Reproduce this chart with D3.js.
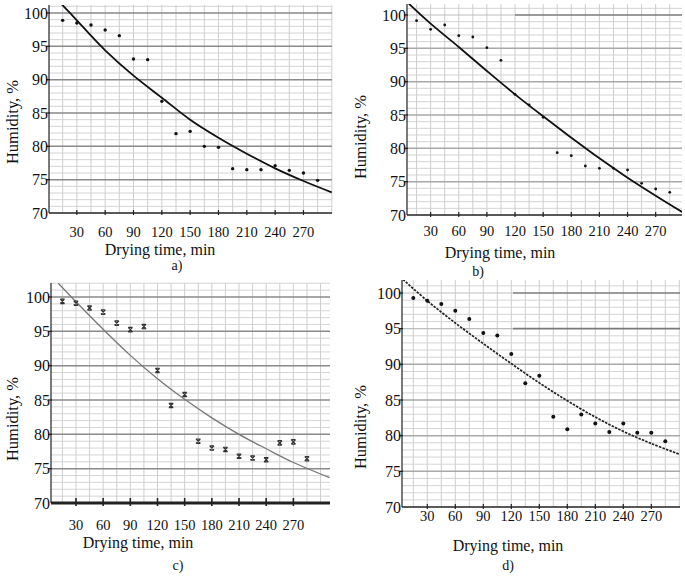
<!DOCTYPE html>
<html><head><meta charset="utf-8">
<script src="https://cdn.jsdelivr.net/npm/d3@7"></script>
<style>
body{margin:0;background:#fff;}
svg text{font-family:"Liberation Serif","Tinos","Times New Roman","DejaVu Serif",serif;fill:#111;}
</style></head>
<body>
<svg id="chart" width="685" height="576"></svg>
<script>
// ---- data ----
const times = [15,30,45,60,75,90,105,120,135,150,165,180,195,210,225,240,255,270,285];
const xTickValues = [30,60,90,120,150,180,210,240,270];
const yTickValues = [70,75,80,85,90,95,100];
const panelLabels = ["a)","b)","c)","d)"];
const xTitle = "Drying time, min";
const yTitle = "Humidity, %";

const humA = [98.9,98.5,98.2,97.45,96.6,93.1,93.0,86.75,81.9,82.25,80.0,79.85,76.65,76.5,76.5,77.1,76.4,76.0,74.9];
const fitTimesA = [14,30,45,60,90,120,150,180,210,240,270,300];
const fitA = [101.3,98.9,96.6,94.4,90.6,87.3,84.0,81.3,78.9,76.7,74.8,73.1];

const humB = [99.15,97.85,98.5,96.9,96.7,95.1,93.2,88.1,86.5,84.65,79.35,78.9,77.35,77.0,77.0,76.75,74.75,73.9,73.4];
const fitTimesB = [6,30,60,90,120,150,180,210,240,270,300];
const fitB = [101.8,98.7,95.2,91.6,88.1,84.8,81.6,78.5,75.6,72.9,70.3];

const humC = [99.37,99.1,98.4,97.8,96.2,95.25,95.7,89.3,84.2,85.8,79.0,78.0,77.8,76.8,76.55,76.3,78.75,78.9,76.45];
const fitTimesC = [10.5,30,60,90,120,150,180,210,240,270,310];
const fitC = [102.0,99.3,95.3,91.5,88.1,85.1,82.4,80.0,77.9,75.9,73.7];

const humD = [99.3,98.9,98.45,97.5,96.35,94.4,94.05,91.45,87.35,88.4,82.65,80.9,82.95,81.7,80.5,81.7,80.4,80.4,79.2];
const fitTimesD = [4,30,60,90,120,150,180,210,240,270,300];
const fitD = [101.9,98.9,95.8,92.9,90.1,87.4,84.9,82.6,80.6,78.9,77.4];

// ---- layout ----
const panels = [
  {id:"a", hum:humA, ft:fitTimesA, fit:fitA, left:49, right:332, top:5, bottom:213, y100:13, x0:48.5, xEnd:331.8, tEnd:300,
   marker:"dot", r:1.7, curveColor:"#111", curveWidth:1.8, dash:null,
   tickY:237, titleX:160, titleY:255, labX:177, labY:270, yTitleX:12, yTitleY:122, darkFrom:{}},
  {id:"b", hum:humB, ft:fitTimesB, fit:fitB, left:407, right:682, top:4, bottom:215, y100:15, x0:402.5, xEnd:683.8, tEnd:300,
   marker:"dot", r:1.4, curveColor:"#111", curveWidth:1.8, dash:null,
   tickY:236, titleX:500, titleY:258, labX:478, labY:276, yTitleX:360, yTitleY:137, darkFrom:{100:515}},
  {id:"c", hum:humC, ft:fitTimesC, fit:fitC, left:51, right:330, top:283, bottom:503, y100:297, x0:48.8, xEnd:329.6, tEnd:310,
   marker:"x", r:2.2, curveColor:"#777", curveWidth:1.3, dash:null,
   tickY:530, titleX:138, titleY:548, labX:178, labY:570, yTitleX:12, yTitleY:419, darkFrom:{}},
  {id:"d", hum:humD, ft:fitTimesD, fit:fitD, left:402, right:680, top:280, bottom:507, y100:293, x0:399.3, xEnd:679.3, tEnd:300,
   marker:"dot", r:2.0, curveColor:"#222", curveWidth:1.7, dash:"2.5,1.2",
   tickY:521, titleX:508, titleY:551, labX:508, labY:570, yTitleX:360, yTitleY:427, darkFrom:{100:513,95:513}}
];

const FONT = "'Liberation Serif','Tinos','Times New Roman','DejaVu Serif',serif";
const svg = d3.select("#chart").attr("font-family",FONT);
svg.append("rect").attr("width",685).attr("height",576).attr("fill","#fff");

panels.forEach((p,i)=>{
  const x = d3.scaleLinear().domain([0,p.tEnd]).range([p.x0,p.xEnd]);
  const y = d3.scaleLinear().domain([70,100]).range([p.bottom,p.y100]);
  const yTopVal = y.invert(p.top);
  const g = svg.append("g");

  const clipId = "clip"+p.id;
  svg.append("clipPath").attr("id",clipId).append("rect")
    .attr("x",p.left).attr("y",p.top).attr("width",p.right-p.left).attr("height",p.bottom-p.top);

  // vertical grid
  const vt = d3.range(15, p.tEnd+1, 15).filter(t=>x(t)<=p.right+0.5 && x(t)>p.left+1);
  g.selectAll(".vg").data(vt).join("line")
    .attr("x1",d=>x(d)).attr("x2",d=>x(d)).attr("y1",p.top).attr("y2",p.bottom)
    .attr("stroke","#c8c8c8").attr("stroke-width",0.9);
  // minor horizontals
  const minor = d3.range(71, Math.floor(yTopVal)+1).filter(v=>v%5!==0);
  g.selectAll(".hm").data(minor).join("line")
    .attr("x1",p.left).attr("x2",p.right).attr("y1",d=>y(d)).attr("y2",d=>y(d))
    .attr("stroke","#cfcfcf").attr("stroke-width",0.9);
  // major horizontals
  const major = yTickValues.filter(v=>v>70 && y(v)>=p.top);
  major.forEach(v=>{
    if(p.darkFrom[v]!==undefined){
      g.append("line").attr("x1",p.left).attr("x2",p.darkFrom[v]).attr("y1",y(v)).attr("y2",y(v))
        .attr("stroke","#bdbdbd").attr("stroke-width",1.2);
      g.append("line").attr("x1",p.darkFrom[v]).attr("x2",p.right).attr("y1",y(v)).attr("y2",y(v))
        .attr("stroke","#7a7a7a").attr("stroke-width",1.6);
    } else {
      const light = (p.id==="b"||p.id==="d");
      g.append("line").attr("x1",p.left).attr("x2",p.right).attr("y1",y(v)).attr("y2",y(v))
        .attr("stroke", light ? "#a8a8a8" : "#8a8a8a").attr("stroke-width",1.5);
    }
  });

  // axes lines
  g.append("line").attr("x1",p.left).attr("x2",p.left).attr("y1",p.top).attr("y2",p.bottom)
    .attr("stroke","#333").attr("stroke-width",1.3);
  g.append("line").attr("x1",p.left).attr("x2",p.right).attr("y1",p.bottom).attr("y2",p.bottom)
    .attr("stroke","#222").attr("stroke-width",p.id==="c"?3:1.6);

  // x ticks (marks)
  g.selectAll(".xt").data(xTickValues).join("line")
    .attr("x1",d=>x(d)).attr("x2",d=>x(d))
    .attr("y1",p.bottom-(p.id==="c"?5:3)).attr("y2",p.bottom+(p.id==="c"?3:2))
    .attr("stroke","#222").attr("stroke-width",p.id==="c"?1.6:1.2);
  // y ticks
  g.selectAll(".yt").data(yTickValues.filter(v=>v>70)).join("line")
    .attr("x1",p.left-3).attr("x2",p.left+1).attr("y1",d=>y(d)).attr("y2",d=>y(d))
    .attr("stroke","#222").attr("stroke-width",1.3);

  // x tick labels
  g.selectAll(".xl").data(xTickValues).join("text")
    .attr("x",d=>x(d)).attr("y",p.tickY).attr("text-anchor","middle")
    .attr("font-size",14.5).text(d=>d);
  // y tick labels
  g.selectAll(".yl").data(yTickValues).join("text")
    .attr("x",p.left-1).attr("y",d=>y(d)).attr("dy","0.35em").attr("text-anchor","end")
    .attr("font-size",16).text(d=>d);

  // titles
  g.append("text").attr("x",p.titleX).attr("y",p.titleY).attr("text-anchor","middle")
    .attr("font-size",16).text(xTitle);
  g.append("text").attr("x",p.labX).attr("y",p.labY).attr("text-anchor","middle")
    .attr("font-size",14).text(panelLabels[i]);
  g.append("text").attr("transform",`translate(${p.yTitleX},${p.yTitleY}) rotate(-90)`)
    .attr("dy","0.35em").attr("text-anchor","middle").attr("font-size",16.5).text(yTitle);

  // fitted curve
  const curveData = p.ft.map((t,k)=>({t:t, v:p.fit[k]}));
  g.append("path").datum(curveData)
    .attr("clip-path",`url(#${clipId})`)
    .attr("d", d3.line().x(d=>x(d.t)).y(d=>y(d.v)).curve(d3.curveCatmullRom))
    .attr("fill","none").attr("stroke",p.curveColor).attr("stroke-width",p.curveWidth)
    .attr("stroke-dasharray",p.dash);

  // points
  const pts = times.map((t,k)=>({t:t, v:p.hum[k]}));
  if(p.marker==="dot"){
    g.selectAll(".pt").data(pts).join("circle")
      .attr("cx",d=>x(d.t)).attr("cy",d=>y(d.v)).attr("r",p.r).attr("fill","#111");
  } else {
    const s = p.r;
    const mk = g.selectAll(".pt").data(pts).join("g")
      .attr("transform",d=>`translate(${x(d.t)},${y(d.v)})`);
    mk.append("path").attr("d",`M${-s},${-s}L${s},${s}M${-s},${s}L${s},${-s}M${-s},${-s}L${s},${-s}M${-s},${s}L${s},${s}`)
      .attr("stroke","#333").attr("stroke-width",1.2).attr("fill","none");
  }
});
</script>
</body></html>
